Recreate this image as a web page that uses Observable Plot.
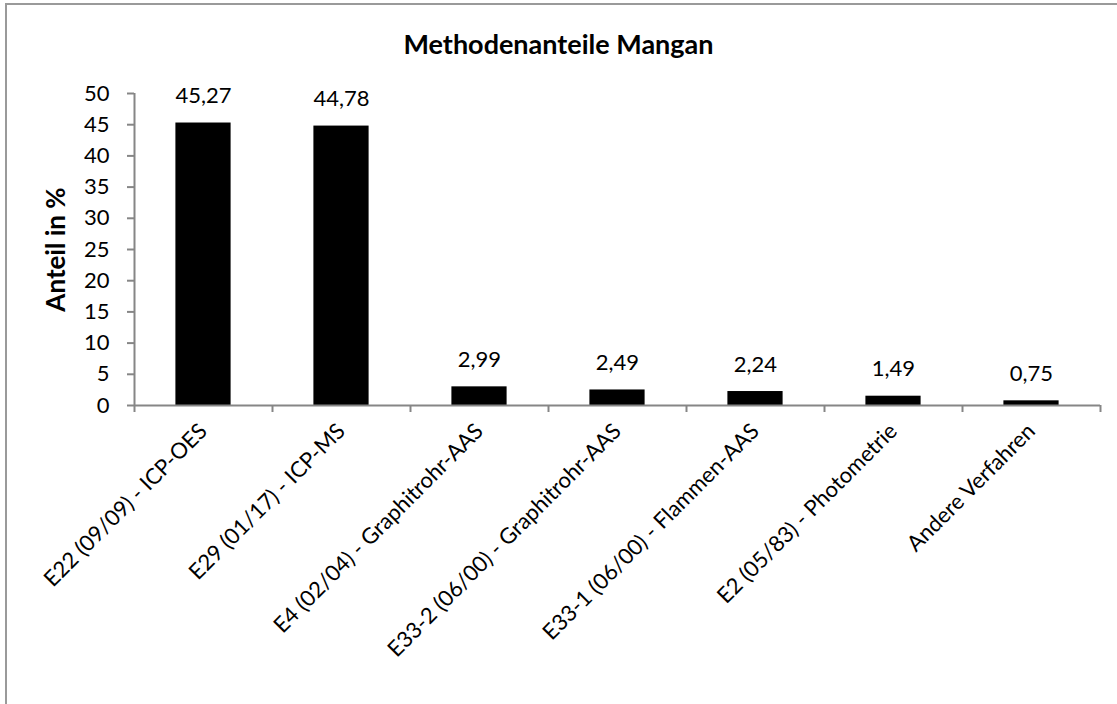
<!DOCTYPE html>
<html>
<head>
<meta charset="utf-8">
<script src="https://cdn.jsdelivr.net/npm/d3@7"></script>
<script src="https://cdn.jsdelivr.net/npm/@observablehq/plot@0.6"></script>
<style>
  html, body { margin: 0; padding: 0; background: #fff; }
  #wrap { position: relative; width: 1117px; height: 704px; overflow: hidden; font-family: Lato, "Open Sans", sans-serif; }
  #frame { position: absolute; left: 5px; top: 3px; width: 1200px; height: 800px; border-left: 2px solid #9a9a9a; border-top: 2px solid #9a9a9a; box-sizing: border-box; }
  #title { position: absolute; left: 0; width: 1117px; top: 27px; text-align: center; font-weight: bold; font-size: 27px; color: #000; }
  #chart { position: absolute; left: 0; top: 0; }
</style>
</head>
<body>
<div id="wrap">
  <div id="frame"></div>
  <div id="chart"></div>
  <div id="title">Methodenanteile Mangan</div>
</div>
<script>
const categories = [
  "E22 (09/09) - ICP-OES",
  "E29 (01/17) - ICP-MS",
  "E4 (02/04) - Graphitrohr-AAS",
  "E33-2 (06/00) - Graphitrohr-AAS",
  "E33-1 (06/00) - Flammen-AAS",
  "E2 (05/83) - Photometrie",
  "Andere Verfahren"
];
const values = [45.27, 44.78, 2.99, 2.49, 2.24, 1.49, 0.75];
const yTicks = [0, 5, 10, 15, 20, 25, 30, 35, 40, 45, 50];
const yLabel = "Anteil in %";

const data = categories.map((c, i) => ({i, category: c, value: values[i]}));
const fmt = v => v.toFixed(2).replace(".", ",");
const gray = "#868686";
const font = "Lato, 'Open Sans', sans-serif";

const chart = Plot.plot({
  width: 1117,
  height: 704,
  marginLeft: 134,
  marginRight: 17,
  marginTop: 93,
  marginBottom: 299,
  style: {fontFamily: font, fontSize: "22px", color: "#000", background: "transparent"},
  x: {type: "linear", domain: [0, categories.length]},
  y: {domain: [0, 50]},
  marks: [
    Plot.rectY(data, {x1: d => d.i + 0.3, x2: d => d.i + 0.7, y: "value", fill: "#000"}),
    Plot.ruleX([0], {y1: 0, y2: 50, stroke: gray, strokeWidth: 2}),
    Plot.ruleY([0], {stroke: gray, strokeWidth: 2}),
    Plot.axisY({
      ticks: yTicks, tickSize: 7, tickPadding: 18, stroke: gray, strokeWidth: 2, fill: "#000",
      fontSize: 22, label: yLabel, labelAnchor: "center", labelArrow: "none", labelOffset: 88
    }),
    Plot.axisX({
      ticks: d3.range(categories.length + 1), tickSize: 7, tickFormat: () => "",
      stroke: gray, strokeWidth: 2, label: null
    }),
    Plot.axisX({
      ticks: d3.range(categories.length).map(i => i + 0.5),
      tickFormat: t => categories[Math.floor(t)],
      tickSize: 0, tickPadding: 22, tickRotate: -45, fontSize: 22, fill: "#000", label: null
    }),
    Plot.text(data, {x: d => d.i + 0.5, y: "value", text: d => fmt(d.value), dy: -27, fontSize: 22, fill: "#000"})
  ]
});
chart.querySelectorAll("text").forEach(t => {
  if (t.textContent === yLabel) { t.setAttribute("font-weight", "bold"); t.setAttribute("font-size", "26"); }
});
document.getElementById("chart").appendChild(chart);
</script>
</body>
</html>
